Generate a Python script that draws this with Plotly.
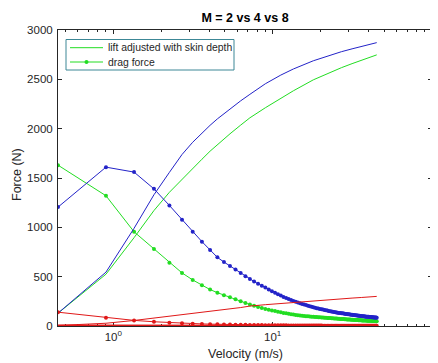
import plotly.graph_objects as go

# ---------------- data ----------------
velocity = [
    0.45, 0.9, 1.35, 1.8, 2.25, 2.7, 3.15, 3.6, 4.05, 4.5,
    4.95, 5.4, 5.85, 6.3, 6.75, 7.2, 7.65, 8.1, 8.55, 9.0,
    9.45, 9.9, 10.35, 10.8, 11.25, 11.7, 12.15, 12.6, 13.05, 13.5,
    13.95, 14.4, 14.85, 15.3, 15.75, 16.2, 16.65, 17.1, 17.55, 18.0,
    18.45, 18.9, 19.35, 19.8, 20.25, 20.7, 21.15, 21.6, 22.05, 22.5,
    22.95, 23.4, 23.85, 24.3, 24.75, 25.2, 25.65, 26.1, 26.55, 27.0,
    27.45, 27.9, 28.35, 28.8, 29.25, 29.7, 30.15, 30.6, 31.05, 31.5,
    31.95, 32.4, 32.85, 33.3, 33.75, 34.2, 34.65, 35.1, 35.55, 36.0,
    36.45, 36.9, 37.35, 37.8, 38.25, 38.7, 39.15, 39.6, 40.05, 40.5,
    40.95, 41.4, 41.85, 42.3, 42.75, 43.2, 43.65, 44.1, 44.55, 45.0,
]

# lift curves (no markers), read at a subset of the velocities
lift_velocity = [0.45, 0.9, 1.35, 1.8, 2.25, 2.7, 3.15, 3.6, 4.05, 4.5,
                 5.4, 6.3, 7.2, 9.0, 11.25, 13.5, 18.0, 22.5, 27.0, 31.5,
                 36.0, 40.5, 45.0]
lift_green = [130, 525, 895, 1170, 1355, 1488, 1598, 1690, 1772, 1840,
              1948, 2036, 2110, 2212, 2308, 2384, 2495, 2566, 2618, 2659,
              2693, 2722, 2748]
lift_blue = [130, 546, 990, 1330, 1557, 1738, 1862, 1956, 2034, 2099,
             2203, 2282, 2348, 2455, 2543, 2605, 2688, 2742, 2780, 2809,
             2834, 2854, 2872]
lift_red = [5, 28, 56, 82, 101, 117, 130, 142, 151, 160,
            174, 187, 202, 216, 229, 240, 256, 267, 276, 283,
            289, 295, 300]

# drag curves (line + dot markers) at every velocity
drag_green = [
    1630, 1320, 955, 781, 640, 538, 467, 413, 369, 338,
    312, 291, 270, 250, 232, 217, 204, 193, 183, 173,
    165, 158, 151, 145, 139, 133, 128, 124, 120, 116,
    112, 108, 106, 104, 102, 100, 98, 97, 95, 93,
    92, 90, 89, 88, 87, 85, 84, 83, 82, 81,
    80, 79, 78, 77, 76, 75, 74, 73, 72, 71,
    70, 70, 69, 68, 67, 67, 66, 65, 64, 64,
    63, 62, 62, 61, 61, 60, 59, 59, 58, 58,
    57, 57, 56, 56, 55, 55, 54, 54, 53, 53,
    53, 52, 52, 51, 51, 51, 50, 50, 49, 49,
]
drag_blue = [
    1205, 1610, 1560, 1390, 1222, 1078, 956, 855, 771, 696,
    648, 607, 572, 537, 504, 476, 451, 428, 408, 389,
    370, 352, 336, 321, 308, 295, 284, 273, 263, 254,
    245, 238, 231, 224, 218, 212, 206, 201, 195, 191,
    186, 181, 177, 173, 169, 166, 162, 159, 156, 152,
    149, 147, 144, 141, 139, 137, 135, 133, 131, 129,
    128, 126, 124, 122, 121, 119, 118, 116, 115, 113,
    112, 111, 109, 108, 107, 106, 105, 103, 102, 101,
    100, 99, 98, 97, 96, 95, 94, 93, 93, 92,
    91, 90, 89, 88, 88, 87, 86, 85, 85, 84,
]
drag_red = [
    140, 83, 57, 43, 34, 28, 24, 21, 19, 17,
    15.5, 14.3, 13.2, 12.3, 11.5, 10.8, 10.2, 9.6, 9.1, 8.7,
    8.3, 7.9, 7.6, 7.3, 7.0, 6.7, 6.5, 6.2, 6.0, 5.8,
    5.6, 5.4, 5.3, 5.1, 5.0, 4.8, 4.7, 4.6, 4.5, 4.4,
    4.3, 4.2, 4.1, 4.0, 3.9, 3.8, 3.7, 3.6, 3.6, 3.5,
    3.4, 3.4, 3.3, 3.2, 3.2, 3.1, 3.1, 3.0, 3.0, 2.9,
    2.9, 2.8, 2.8, 2.7, 2.7, 2.7, 2.6, 2.6, 2.5, 2.5,
    2.5, 2.4, 2.4, 2.4, 2.3, 2.3, 2.3, 2.2, 2.2, 2.2,
    2.2, 2.1, 2.1, 2.1, 2.0, 2.0, 2.0, 2.0, 1.9, 1.9,
    1.9, 1.9, 1.9, 1.8, 1.8, 1.8, 1.8, 1.8, 1.7, 1.7,
]
# near-zero red line along the bottom
base_velocity = [0.45, 45.0]
base_red = [7, 6]

y_ticks = [0, 500, 1000, 1500, 2000, 2500, 3000]
x_major = [1, 10, 100]
x_major_text = ["10<sup>0</sup>", "10<sup>1</sup>", "10<sup>2</sup>"]
x_minor = [0.5, 0.6, 0.7, 0.8, 0.9, 2, 3, 4, 5, 6, 7, 8, 9,
           20, 30, 40, 50, 60, 70, 80, 90]

title_text = "M = 2 vs 4 vs 8"
legend_names = ["lift adjusted with skin depth", "drag force"]

GREEN = "#22dd22"
BLUE = "#2323c8"
RED = "#e01818"
AX = "#262626"
LEG_EDGE = "#3c8796"
FONT = "Liberation Sans, Arial, sans-serif"

# page is drawn with an 8px body margin; plot box spans page x 58..432, y 30..326
W, H = 430, 355
PL, PR, PT, PB = 58, 432, 30, 326


def px_x(p):
    return (p - PL) / (PR - PL)


def px_y(p):
    return (PB - p) / (PB - PT)


fig = go.Figure()
fig.add_trace(go.Scatter(x=lift_velocity, y=lift_green, mode="lines",
                         line=dict(color=GREEN, width=1), name=legend_names[0]))
fig.add_trace(go.Scatter(x=velocity, y=drag_green, mode="lines+markers",
                         line=dict(color=GREEN, width=1),
                         marker=dict(color=GREEN, size=4), name=legend_names[1]))
fig.add_trace(go.Scatter(x=lift_velocity, y=lift_blue, mode="lines",
                         line=dict(color=BLUE, width=1)))
fig.add_trace(go.Scatter(x=velocity, y=drag_blue, mode="lines+markers",
                         line=dict(color=BLUE, width=1),
                         marker=dict(color=BLUE, size=4)))
fig.add_trace(go.Scatter(x=lift_velocity, y=lift_red, mode="lines",
                         line=dict(color=RED, width=1)))
fig.add_trace(go.Scatter(x=velocity, y=drag_red, mode="lines+markers",
                         line=dict(color=RED, width=1),
                         marker=dict(color=RED, size=4)))
fig.add_trace(go.Scatter(x=base_velocity, y=base_red, mode="lines",
                         line=dict(color=RED, width=1.5)))

fig.update_layout(
    width=W, height=H,
    margin=dict(l=PL - 8, r=8 + W - PR, t=PT - 8, b=8 + H - PB, pad=0),
    paper_bgcolor="white", plot_bgcolor="white",
    font=dict(family=FONT, size=11, color=AX),
    title=dict(text="<b>" + title_text + "</b>", x=(245 - 8) / W, xanchor="center",
               y=1 - (18 - 8) / H, yanchor="middle", yref="container",
               font=dict(size=12.5, color="black", family=FONT)),
    showlegend=False,
)
fig.update_xaxes(
    type="log", range=[-0.3468, 2.0],
    showline=True, linecolor=AX, linewidth=1, mirror="ticks",
    showgrid=False, zeroline=False,
    tickmode="array", tickvals=x_major, ticktext=x_major_text,
    ticks="inside", ticklen=4, tickcolor=AX,
    minor=dict(tickmode="array", tickvals=x_minor, ticks="inside", ticklen=2, tickcolor=AX),
    tickfont=dict(size=11.5, color=AX), layer="below traces",
)
fig.update_yaxes(
    range=[0, 3000],
    showline=True, linecolor=AX, linewidth=1, mirror="ticks",
    showgrid=False, zeroline=False,
    tickmode="array", tickvals=y_ticks,
    ticks="inside", ticklen=4, tickcolor=AX,
    tickfont=dict(size=11.5, color=AX), ticklabelstandoff=2, layer="below traces",
)
fig.add_annotation(text="Velocity (m/s)", xref="paper", yref="paper", x=0.5, y=0,
                   yshift=-(354 - PB), showarrow=False, xanchor="center", yanchor="middle",
                   font=dict(size=12.5, color=AX, family=FONT))
fig.add_annotation(text="Force (N)", xref="paper", yref="paper", x=0, y=0.5,
                   xshift=-(PL - 17), yshift=3, textangle=-90, showarrow=False,
                   xanchor="center", yanchor="middle",
                   font=dict(size=12.5, color=AX, family=FONT))

# ---- legend box (MATLAB style, compact) ----
fig.add_shape(type="rect", xref="paper", yref="paper",
              x0=px_x(66), x1=px_x(234), y0=px_y(70), y1=px_y(39.5),
              line=dict(color=LEG_EDGE, width=1), fillcolor="white", layer="above")
row_y = [47.7, 62]
for i, name in enumerate(legend_names):
    fig.add_shape(type="line", xref="paper", yref="paper",
                  x0=px_x(70), x1=px_x(103), y0=px_y(row_y[i]), y1=px_y(row_y[i]),
                  line=dict(color=GREEN, width=1), layer="above")
    fig.add_annotation(text=name, xref="paper", yref="paper",
                       x=px_x(106), y=px_y(row_y[i]), xanchor="left", yanchor="middle",
                       showarrow=False, font=dict(size=10.4, color=AX, family=FONT))
fig.add_shape(type="circle", xref="paper", yref="paper",
              xsizemode="pixel", ysizemode="pixel",
              xanchor=px_x(86.5), yanchor=px_y(row_y[1]),
              x0=-2, x1=2, y0=-2, y1=2,
              line=dict(color=GREEN, width=0), fillcolor=GREEN, layer="above")

fig.write_html("out.html")
